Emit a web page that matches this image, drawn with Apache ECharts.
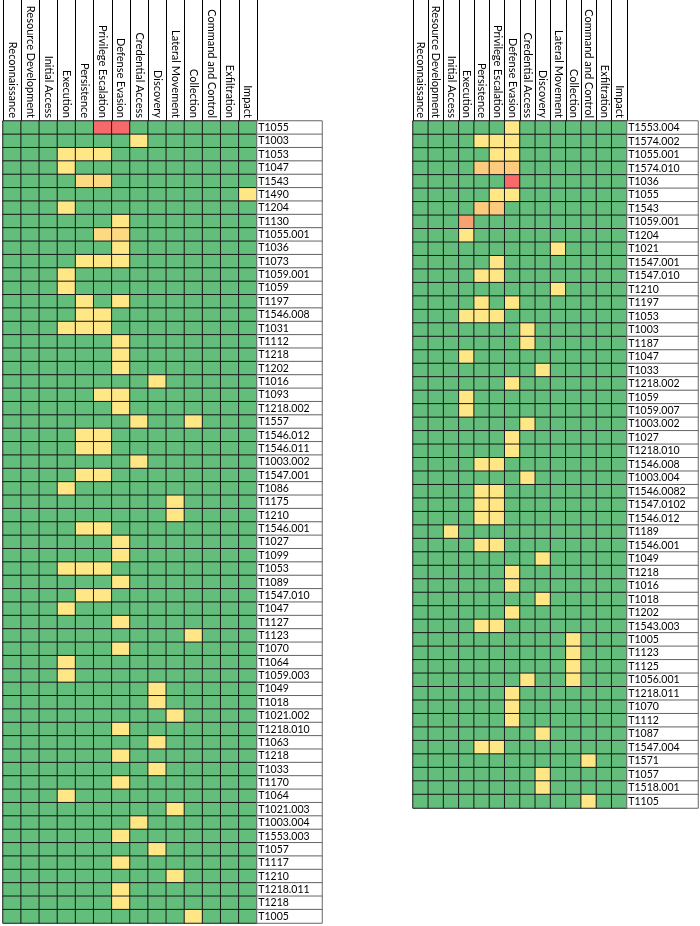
<!DOCTYPE html>
<html>
<head>
<meta charset="utf-8">
<script src="https://cdn.jsdelivr.net/npm/echarts@6/dist/echarts.min.js"></script>
<style>
  html, body { margin: 0; padding: 0; background: #fff; }
  #chart { width: 700px; height: 926px; }
</style>
</head>
<body>
<div id="chart"></div>
<script>
const tactics = [
  'Reconnaissance', 'Resource Development', 'Initial Access', 'Execution',
  'Persistence', 'Privilege Escalation', 'Defense Evasion', 'Credential Access',
  'Discovery', 'Lateral Movement', 'Collection', 'Command and Control',
  'Exfiltration', 'Impact'
]

// left table: technique ids (top to bottom)
const leftTechniques = [
  'T1055', 'T1003', 'T1053', 'T1047', 'T1543', 'T1490', 'T1204', 'T1130',
  'T1055.001', 'T1036', 'T1073', 'T1059.001', 'T1059', 'T1197', 'T1546.008',
  'T1031', 'T1112', 'T1218', 'T1202', 'T1016', 'T1093', 'T1218.002', 'T1557',
  'T1546.012', 'T1546.011', 'T1003.002', 'T1547.001', 'T1086', 'T1175', 'T1210',
  'T1546.001', 'T1027', 'T1099', 'T1053', 'T1089', 'T1547.010', 'T1047', 'T1127',
  'T1123', 'T1070', 'T1064', 'T1059.003', 'T1049', 'T1018', 'T1021.002',
  'T1218.010', 'T1063', 'T1218', 'T1033', 'T1170', 'T1064', 'T1021.003',
  'T1003.004', 'T1553.003', 'T1057', 'T1117', 'T1210', 'T1218.011', 'T1218', 'T1005'
]

// left table: one row per technique, one value per tactic
const leftValues = [
  [0,0,0,0,0,4,4,0,0,0,0,0,0,0],
  [0,0,0,0,0,0,0,1,0,0,0,0,0,0],
  [0,0,0,1,1,1,0,0,0,0,0,0,0,0],
  [0,0,0,1,0,0,0,0,0,0,0,0,0,0],
  [0,0,0,0,2,2,0,0,0,0,0,0,0,0],
  [0,0,0,0,0,0,0,0,0,0,0,0,0,1],
  [0,0,0,1,0,0,0,0,0,0,0,0,0,0],
  [0,0,0,0,0,0,1,0,0,0,0,0,0,0],
  [0,0,0,0,0,2,2,0,0,0,0,0,0,0],
  [0,0,0,0,0,0,1,0,0,0,0,0,0,0],
  [0,0,0,0,1,1,1,0,0,0,0,0,0,0],
  [0,0,0,1,0,0,0,0,0,0,0,0,0,0],
  [0,0,0,1,0,0,0,0,0,0,0,0,0,0],
  [0,0,0,0,1,0,1,0,0,0,0,0,0,0],
  [0,0,0,0,1,1,0,0,0,0,0,0,0,0],
  [0,0,0,1,1,1,0,0,0,0,0,0,0,0],
  [0,0,0,0,0,0,1,0,0,0,0,0,0,0],
  [0,0,0,0,0,0,1,0,0,0,0,0,0,0],
  [0,0,0,0,0,0,1,0,0,0,0,0,0,0],
  [0,0,0,0,0,0,0,0,1,0,0,0,0,0],
  [0,0,0,0,0,1,1,0,0,0,0,0,0,0],
  [0,0,0,0,0,0,1,0,0,0,0,0,0,0],
  [0,0,0,0,0,0,0,1,0,0,1,0,0,0],
  [0,0,0,0,1,1,0,0,0,0,0,0,0,0],
  [0,0,0,0,1,1,0,0,0,0,0,0,0,0],
  [0,0,0,0,0,0,0,1,0,0,0,0,0,0],
  [0,0,0,0,1,1,0,0,0,0,0,0,0,0],
  [0,0,0,1,0,0,0,0,0,0,0,0,0,0],
  [0,0,0,0,0,0,0,0,0,1,0,0,0,0],
  [0,0,0,0,0,0,0,0,0,1,0,0,0,0],
  [0,0,0,0,1,1,0,0,0,0,0,0,0,0],
  [0,0,0,0,0,0,1,0,0,0,0,0,0,0],
  [0,0,0,0,0,0,1,0,0,0,0,0,0,0],
  [0,0,0,1,1,1,0,0,0,0,0,0,0,0],
  [0,0,0,0,0,0,1,0,0,0,0,0,0,0],
  [0,0,0,0,1,1,0,0,0,0,0,0,0,0],
  [0,0,0,1,0,0,0,0,0,0,0,0,0,0],
  [0,0,0,0,0,0,1,0,0,0,0,0,0,0],
  [0,0,0,0,0,0,0,0,0,0,1,0,0,0],
  [0,0,0,0,0,0,1,0,0,0,0,0,0,0],
  [0,0,0,1,0,0,0,0,0,0,0,0,0,0],
  [0,0,0,1,0,0,0,0,0,0,0,0,0,0],
  [0,0,0,0,0,0,0,0,1,0,0,0,0,0],
  [0,0,0,0,0,0,0,0,1,0,0,0,0,0],
  [0,0,0,0,0,0,0,0,0,1,0,0,0,0],
  [0,0,0,0,0,0,1,0,0,0,0,0,0,0],
  [0,0,0,0,0,0,0,0,1,0,0,0,0,0],
  [0,0,0,0,0,0,1,0,0,0,0,0,0,0],
  [0,0,0,0,0,0,0,0,1,0,0,0,0,0],
  [0,0,0,0,0,0,1,0,0,0,0,0,0,0],
  [0,0,0,1,0,0,0,0,0,0,0,0,0,0],
  [0,0,0,0,0,0,0,0,0,1,0,0,0,0],
  [0,0,0,0,0,0,0,1,0,0,0,0,0,0],
  [0,0,0,0,0,0,1,0,0,0,0,0,0,0],
  [0,0,0,0,0,0,0,0,1,0,0,0,0,0],
  [0,0,0,0,0,0,1,0,0,0,0,0,0,0],
  [0,0,0,0,0,0,0,0,0,1,0,0,0,0],
  [0,0,0,0,0,0,1,0,0,0,0,0,0,0],
  [0,0,0,0,0,0,1,0,0,0,0,0,0,0],
  [0,0,0,0,0,0,0,0,0,0,1,0,0,0]
]

// right table
const rightTechniques = [
  'T1553.004', 'T1574.002', 'T1055.001', 'T1574.010', 'T1036', 'T1055', 'T1543',
  'T1059.001', 'T1204', 'T1021', 'T1547.001', 'T1547.010', 'T1210', 'T1197',
  'T1053', 'T1003', 'T1187', 'T1047', 'T1033', 'T1218.002', 'T1059', 'T1059.007',
  'T1003.002', 'T1027', 'T1218.010', 'T1546.008', 'T1003.004', 'T1546.0082',
  'T1547.0102', 'T1546.012', 'T1189', 'T1546.001', 'T1049', 'T1218', 'T1016',
  'T1018', 'T1202', 'T1543.003', 'T1005', 'T1123', 'T1125', 'T1056.001',
  'T1218.011', 'T1070', 'T1112', 'T1087', 'T1547.004', 'T1571', 'T1057',
  'T1518.001', 'T1105'
]

const rightValues = [
  [0,0,0,0,0,0,1,0,0,0,0,0,0,0],
  [0,0,0,0,1,1,1,0,0,0,0,0,0,0],
  [0,0,0,0,0,1,1,0,0,0,0,0,0,0],
  [0,0,0,0,2,2,2,0,0,0,0,0,0,0],
  [0,0,0,0,0,0,4,0,0,0,0,0,0,0],
  [0,0,0,0,0,1,1,0,0,0,0,0,0,0],
  [0,0,0,0,2,2,0,0,0,0,0,0,0,0],
  [0,0,0,3,0,0,0,0,0,0,0,0,0,0],
  [0,0,0,1,0,0,0,0,0,0,0,0,0,0],
  [0,0,0,0,0,0,0,0,0,1,0,0,0,0],
  [0,0,0,0,0,1,0,0,0,0,0,0,0,0],
  [0,0,0,0,1,1,0,0,0,0,0,0,0,0],
  [0,0,0,0,0,0,0,0,0,1,0,0,0,0],
  [0,0,0,0,1,0,1,0,0,0,0,0,0,0],
  [0,0,0,1,1,1,0,0,0,0,0,0,0,0],
  [0,0,0,0,0,0,0,1,0,0,0,0,0,0],
  [0,0,0,0,0,0,0,1,0,0,0,0,0,0],
  [0,0,0,1,0,0,0,0,0,0,0,0,0,0],
  [0,0,0,0,0,0,0,0,1,0,0,0,0,0],
  [0,0,0,0,0,0,1,0,0,0,0,0,0,0],
  [0,0,0,1,0,0,0,0,0,0,0,0,0,0],
  [0,0,0,1,0,0,0,0,0,0,0,0,0,0],
  [0,0,0,0,0,0,0,1,0,0,0,0,0,0],
  [0,0,0,0,0,0,1,0,0,0,0,0,0,0],
  [0,0,0,0,0,0,1,0,0,0,0,0,0,0],
  [0,0,0,0,1,1,0,0,0,0,0,0,0,0],
  [0,0,0,0,0,0,0,1,0,0,0,0,0,0],
  [0,0,0,0,1,1,0,0,0,0,0,0,0,0],
  [0,0,0,0,1,1,0,0,0,0,0,0,0,0],
  [0,0,0,0,1,1,0,0,0,0,0,0,0,0],
  [0,0,1,0,0,0,0,0,0,0,0,0,0,0],
  [0,0,0,0,1,1,0,0,0,0,0,0,0,0],
  [0,0,0,0,0,0,0,0,1,0,0,0,0,0],
  [0,0,0,0,0,0,1,0,0,0,0,0,0,0],
  [0,0,0,0,0,0,1,0,0,0,0,0,0,0],
  [0,0,0,0,0,0,0,0,1,0,0,0,0,0],
  [0,0,0,0,0,0,1,0,0,0,0,0,0,0],
  [0,0,0,0,1,1,0,0,0,0,0,0,0,0],
  [0,0,0,0,0,0,0,0,0,0,1,0,0,0],
  [0,0,0,0,0,0,0,0,0,0,1,0,0,0],
  [0,0,0,0,0,0,0,0,0,0,1,0,0,0],
  [0,0,0,0,0,0,0,1,0,0,1,0,0,0],
  [0,0,0,0,0,0,1,0,0,0,0,0,0,0],
  [0,0,0,0,0,0,1,0,0,0,0,0,0,0],
  [0,0,0,0,0,0,1,0,0,0,0,0,0,0],
  [0,0,0,0,0,0,0,0,1,0,0,0,0,0],
  [0,0,0,0,1,1,0,0,0,0,0,0,0,0],
  [0,0,0,0,0,0,0,0,0,0,0,1,0,0],
  [0,0,0,0,0,0,0,0,1,0,0,0,0,0],
  [0,0,0,0,0,0,0,0,1,0,0,0,0,0],
  [0,0,0,0,0,0,0,0,0,0,0,1,0,0]
]

const FONT = 'Lato'
const GREEN = '#63BE7B'
const YELLOW = '#FFE785'

const toCells = (rows) => {
  const out = []
  rows.forEach((row, r) => row.forEach((v, c) => out.push([c, r, v])))
  return out
}

const cellAxes = (names, gridIndex) => ({
  x: {
    type: 'category', gridIndex, data: tactics, position: 'top',
    axisLine: { show: true, lineStyle: { color: '#000', width: 1 } },
    axisTick: { show: true, length: 121, lineStyle: { color: '#000', width: 1 } },
    axisLabel: { rotate: 90, margin: 3, fontFamily: FONT, fontSize: 11, color: '#000' },
    splitLine: { show: false },
  },
  y: {
    type: 'category', gridIndex, data: names, inverse: true,
    axisLine: { show: false }, axisTick: { show: false }, axisLabel: { show: false },
  },
})

const labelAxes = (names, gridIndex) => ({
  x: { type: 'category', gridIndex, data: [''], show: false },
  y: { type: 'category', gridIndex, data: names, inverse: true, show: false },
})

const leftA = cellAxes(leftTechniques, 0)
const leftB = labelAxes(leftTechniques, 1)
const rightA = cellAxes(rightTechniques, 2)
const rightB = labelAxes(rightTechniques, 3)

const labelSeries = (names, axisIndex) => ({
  type: 'heatmap',
  xAxisIndex: axisIndex,
  yAxisIndex: axisIndex,
  data: names.map((_, i) => [0, i, 0]),
  itemStyle: { color: '#fff', borderColor: '#666', borderWidth: 1 },
  label: {
    show: true, position: 'insideLeft', distance: 2,
    formatter: (p) => names[p.value[1]],
    fontFamily: FONT, fontSize: 10.5, color: '#000',
  },
  emphasis: { disabled: true },
  silent: true,
})

const cellStyle = { borderColor: '#1a1a1a', borderWidth: 1 }

const chart = echarts.init(document.getElementById('chart'))
chart.setOption({
  animation: false,
  grid: [
    { left: 3, top: 121, width: 254, height: 802 },
    { left: 257, top: 121, width: 65, height: 802 },
    { left: 413, top: 121, width: 214, height: 687 },
    { left: 627, top: 121, width: 71, height: 687 },
  ],
  xAxis: [leftA.x, leftB.x, rightA.x, rightB.x],
  yAxis: [leftA.y, leftB.y, rightA.y, rightB.y],
  visualMap: [
    {
      type: 'piecewise', show: false, seriesIndex: 0, dimension: 2,
      pieces: [
        { value: 0, color: GREEN },
        { value: 1, color: YELLOW },
        { value: 2, color: '#FDD982' },
        { gte: 3, color: '#F8696B' },
      ],
    },
    {
      type: 'piecewise', show: false, seriesIndex: 2, dimension: 2,
      pieces: [
        { value: 0, color: GREEN },
        { value: 1, color: YELLOW },
        { value: 2, color: '#FCCB7E' },
        { value: 3, color: '#F8A271' },
        { gte: 4, color: '#F8696B' },
      ],
    },
  ],
  series: [
    {
      type: 'heatmap', xAxisIndex: 0, yAxisIndex: 0,
      data: toCells(leftValues), itemStyle: cellStyle,
      emphasis: { disabled: true }, silent: true,
    },
    labelSeries(leftTechniques, 1),
    {
      type: 'heatmap', xAxisIndex: 2, yAxisIndex: 2,
      data: toCells(rightValues), itemStyle: cellStyle,
      emphasis: { disabled: true }, silent: true,
    },
    labelSeries(rightTechniques, 3),
  ],
})
</script>
</body>
</html>
